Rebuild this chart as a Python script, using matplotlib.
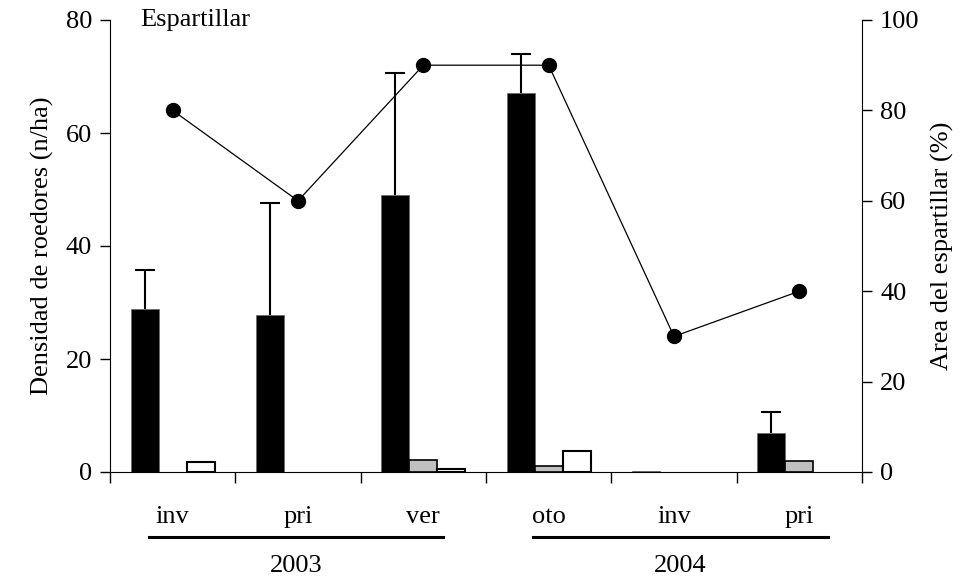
import numpy as np
import matplotlib.pyplot as plt
from matplotlib.lines import Line2D

plt.rcParams['font.family'] = ['Liberation Serif', 'DejaVu Serif']

# data
seasons = ['inv', 'pri', 'ver', 'oto', 'inv', 'pri']
years = ['2003', '2004']
dens_black = [28.8, 27.8, 49.0, 67.0, 0.15, 6.9]
dens_black_err = [6.9, 19.8, 21.6, 7.0, 0.0, 3.7]
dens_gray = [0.0, 0.0, 2.1, 1.0, 0.0, 1.9]
dens_white = [1.8, 0.0, 0.5, 3.7, 0.0, 0.0]
area_pct = [80, 60, 90, 90, 30, 40]

FS = 19
W, H = 970, 581

fig = plt.figure(figsize=(9.7, 5.81), dpi=100)
ax = fig.add_axes([110 / W, 1 - 472 / H, 752 / W, 452 / H])
ax2 = ax.twinx()

x = np.arange(len(seasons))
bw = 0.224


def draw_bars(offset, vals, **kw):
    vals = np.array(vals)
    keep = vals > 0  # zero values draw nothing
    ax.bar((x + offset)[keep], vals[keep], bw, zorder=2, **kw)


draw_bars(-bw, dens_black, color='black', edgecolor='#666666', lw=0.5)
draw_bars(0, dens_gray, color='#c0c0c0', edgecolor='black', lw=1.2)
draw_bars(bw, dens_white, color='white', edgecolor='black', lw=1.5)

# upper-only error bars on the black bars
err = np.array(dens_black_err)
mask = err > 0
_, caps, _ = ax.errorbar((x - bw)[mask], np.array(dens_black)[mask],
                         yerr=[np.zeros(mask.sum()), err[mask]],
                         fmt='none', ecolor='black', elinewidth=1.5,
                         capsize=7, capthick=1.5, zorder=3)
caps[0].set_visible(False)

ax2.plot(x, area_pct, color='black', lw=0.9, marker='o', ms=10, zorder=4)

ax.set_xlim(-0.5, 5.5)
ax.set_ylim(0, 80)
ax2.set_ylim(0, 100)
ax.set_yticks([0, 20, 40, 60, 80])
ax2.set_yticks([0, 20, 40, 60, 80, 100])
ax.set_xticks(np.arange(-0.5, 6.0, 1.0))
ax.set_xticklabels([])

for a in (ax, ax2):
    a.spines['top'].set_visible(False)
    a.tick_params(axis='y', direction='out', length=7, width=1, labelsize=FS, pad=6)
ax.tick_params(axis='x', direction='out', length=8, width=1)
ax2.spines['left'].set_visible(False)
ax2.spines['bottom'].set_visible(False)
ax.spines['right'].set_visible(False)

ax.set_ylabel('Densidad de roedores (n/ha)', fontsize=FS, labelpad=8)
ax2.set_ylabel('Area del espartillar (%)', fontsize=FS, labelpad=8)

ax.text(0.04, 1.0, 'Espartillar', transform=ax.transAxes, fontsize=FS,
        ha='left', va='center')

# season labels under each group
trans = ax.get_xaxis_transform()
for xi, s in zip(x, seasons):
    ax.annotate(s, xy=(xi, 0), xycoords=trans, xytext=(0, -45),
                textcoords='offset pixels', fontsize=FS, ha='center', va='center',
                annotation_clip=False)

# year underline + label
y_line = 1 - 537 / H
for (x0, x1, yr) in [(-0.19, 2.157, years[0]), (2.875, 5.23, years[1])]:
    px0 = ax.transData.transform((x0, 0))[0] / W
    px1 = ax.transData.transform((x1, 0))[0] / W
    fig.add_artist(Line2D([px0, px1], [y_line, y_line], color='black', lw=2.2))
    ax.annotate(yr, xy=((x0 + x1) / 2, 0), xycoords=trans, xytext=(0, -94),
                textcoords='offset pixels', fontsize=FS, ha='center', va='center',
                annotation_clip=False)

fig.savefig('out.png', dpi=100)
